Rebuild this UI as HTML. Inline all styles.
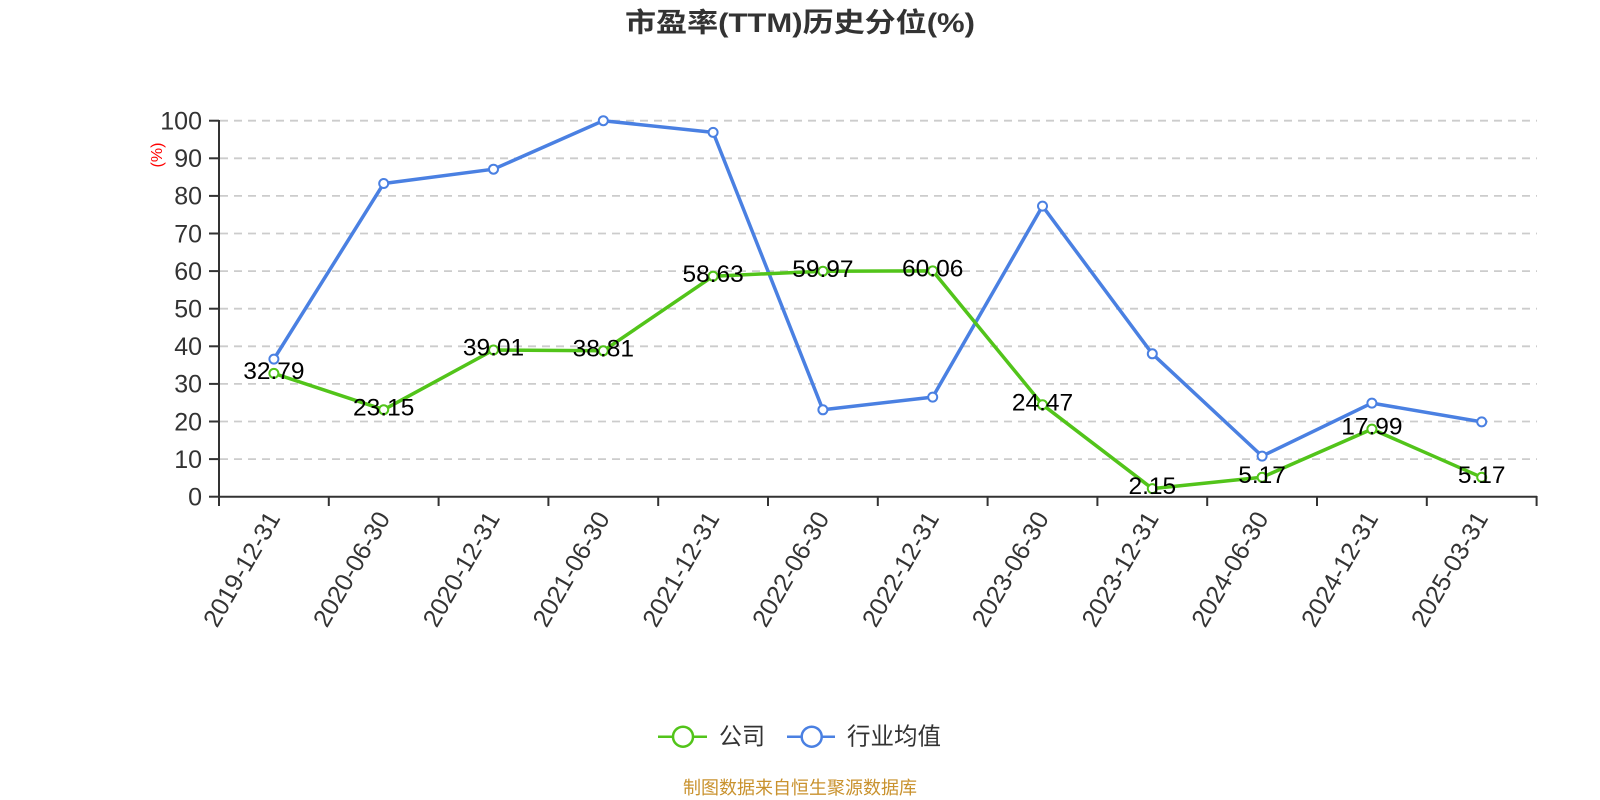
<!DOCTYPE html>
<html><head><meta charset="utf-8"><style>
html,body{margin:0;padding:0;background:#fff;}
svg{display:block;font-family:"Liberation Sans","Noto Sans CJK SC",sans-serif;}
</style></head><body>
<svg width="1600" height="800" viewBox="0 0 1600 800" xmlns="http://www.w3.org/2000/svg">
<rect width="1600" height="800" fill="#fff"/>
<text x="800" y="32" text-anchor="middle" font-size="27" font-weight="bold" fill="#333" textLength="350" lengthAdjust="spacingAndGlyphs">市盈率(TTM)历史分位(%)</text>
<g stroke="#ccc" stroke-width="1.8" stroke-dasharray="8,6">
<line x1="220" y1="459.1" x2="1537" y2="459.1"/>
<line x1="220" y1="421.5" x2="1537" y2="421.5"/>
<line x1="220" y1="383.9" x2="1537" y2="383.9"/>
<line x1="220" y1="346.3" x2="1537" y2="346.3"/>
<line x1="220" y1="308.7" x2="1537" y2="308.7"/>
<line x1="220" y1="271.1" x2="1537" y2="271.1"/>
<line x1="220" y1="233.5" x2="1537" y2="233.5"/>
<line x1="220" y1="195.9" x2="1537" y2="195.9"/>
<line x1="220" y1="158.3" x2="1537" y2="158.3"/>
<line x1="220" y1="120.7" x2="1537" y2="120.7"/>
</g>
<g stroke="#333" stroke-width="2">
<line x1="219" y1="120" x2="219" y2="497.7"/>
<line x1="218" y1="496.7" x2="1537" y2="496.7"/>
<line x1="209" y1="496.7" x2="219" y2="496.7"/>
<line x1="209" y1="459.1" x2="219" y2="459.1"/>
<line x1="209" y1="421.5" x2="219" y2="421.5"/>
<line x1="209" y1="383.9" x2="219" y2="383.9"/>
<line x1="209" y1="346.3" x2="219" y2="346.3"/>
<line x1="209" y1="308.7" x2="219" y2="308.7"/>
<line x1="209" y1="271.1" x2="219" y2="271.1"/>
<line x1="209" y1="233.5" x2="219" y2="233.5"/>
<line x1="209" y1="195.9" x2="219" y2="195.9"/>
<line x1="209" y1="158.3" x2="219" y2="158.3"/>
<line x1="209" y1="120.7" x2="219" y2="120.7"/>
<line x1="219" y1="496" x2="219" y2="506"/>
<line x1="328.8" y1="496" x2="328.8" y2="506"/>
<line x1="438.6" y1="496" x2="438.6" y2="506"/>
<line x1="548.4" y1="496" x2="548.4" y2="506"/>
<line x1="658.2" y1="496" x2="658.2" y2="506"/>
<line x1="768" y1="496" x2="768" y2="506"/>
<line x1="877.8" y1="496" x2="877.8" y2="506"/>
<line x1="987.6" y1="496" x2="987.6" y2="506"/>
<line x1="1097.4" y1="496" x2="1097.4" y2="506"/>
<line x1="1207.2" y1="496" x2="1207.2" y2="506"/>
<line x1="1317" y1="496" x2="1317" y2="506"/>
<line x1="1426.8" y1="496" x2="1426.8" y2="506"/>
<line x1="1536.6" y1="496" x2="1536.6" y2="506"/>
</g>
<g font-size="25" fill="#333" text-anchor="end">
<text x="202" y="505.5">0</text>
<text x="202" y="467.9">10</text>
<text x="202" y="430.3">20</text>
<text x="202" y="392.7">30</text>
<text x="202" y="355.1">40</text>
<text x="202" y="317.5">50</text>
<text x="202" y="279.9">60</text>
<text x="202" y="242.3">70</text>
<text x="202" y="204.7">80</text>
<text x="202" y="167.1">90</text>
<text x="202" y="129.5">100</text>
</g>
<text transform="translate(162,155) rotate(-90)" text-anchor="middle" font-size="16" fill="#f00">(%)</text>
<g font-size="25" fill="#333" text-anchor="end">
<text transform="translate(281,518) rotate(-60)">2019-12-31</text>
<text transform="translate(390.8,518) rotate(-60)">2020-06-30</text>
<text transform="translate(500.6,518) rotate(-60)">2020-12-31</text>
<text transform="translate(610.4,518) rotate(-60)">2021-06-30</text>
<text transform="translate(720.2,518) rotate(-60)">2021-12-31</text>
<text transform="translate(830,518) rotate(-60)">2022-06-30</text>
<text transform="translate(939.8,518) rotate(-60)">2022-12-31</text>
<text transform="translate(1049.6,518) rotate(-60)">2023-06-30</text>
<text transform="translate(1159.4,518) rotate(-60)">2023-12-31</text>
<text transform="translate(1269.2,518) rotate(-60)">2024-06-30</text>
<text transform="translate(1379,518) rotate(-60)">2024-12-31</text>
<text transform="translate(1488.8,518) rotate(-60)">2025-03-31</text>
</g>
<polyline fill="none" stroke="#4a80e2" stroke-width="3.5" stroke-linejoin="round" points="273.9,359.1 383.7,183.5 493.5,169.2 603.3,120.7 713.1,132.4 822.9,409.8 932.7,397.1 1042.5,206.1 1152.3,353.8 1262.1,456.1 1371.9,403.1 1481.7,421.9"/>
<polyline fill="none" stroke="#52c41a" stroke-width="3.5" stroke-linejoin="round" points="273.9,373.4 383.7,409.7 493.5,350 603.3,350.8 713.1,276.2 822.9,271.2 932.7,270.9 1042.5,404.7 1152.3,488.6 1262.1,477.3 1371.9,429.1 1481.7,477.3"/>
<g fill="#fff" stroke="#4a80e2" stroke-width="2">
<circle cx="273.9" cy="359.1" r="4.5"/><circle cx="383.7" cy="183.5" r="4.5"/><circle cx="493.5" cy="169.2" r="4.5"/><circle cx="603.3" cy="120.7" r="4.5"/><circle cx="713.1" cy="132.4" r="4.5"/><circle cx="822.9" cy="409.8" r="4.5"/><circle cx="932.7" cy="397.1" r="4.5"/><circle cx="1042.5" cy="206.1" r="4.5"/><circle cx="1152.3" cy="353.8" r="4.5"/><circle cx="1262.1" cy="456.1" r="4.5"/><circle cx="1371.9" cy="403.1" r="4.5"/><circle cx="1481.7" cy="421.9" r="4.5"/>
</g>
<g fill="#fff" stroke="#52c41a" stroke-width="2">
<circle cx="273.9" cy="373.4" r="4.5"/><circle cx="383.7" cy="409.7" r="4.5"/><circle cx="493.5" cy="350" r="4.5"/><circle cx="603.3" cy="350.8" r="4.5"/><circle cx="713.1" cy="276.2" r="4.5"/><circle cx="822.9" cy="271.2" r="4.5"/><circle cx="932.7" cy="270.9" r="4.5"/><circle cx="1042.5" cy="404.7" r="4.5"/><circle cx="1152.3" cy="488.6" r="4.5"/><circle cx="1262.1" cy="477.3" r="4.5"/><circle cx="1371.9" cy="429.1" r="4.5"/><circle cx="1481.7" cy="477.3" r="4.5"/>
</g>
<g font-size="24.5" fill="#000" text-anchor="middle">
<text x="273.9" y="379">32.79</text>
<text x="383.7" y="415.3">23.15</text>
<text x="493.5" y="355.6">39.01</text>
<text x="603.3" y="356.4">38.81</text>
<text x="713.1" y="281.8">58.63</text>
<text x="822.9" y="276.8">59.97</text>
<text x="932.7" y="276.5">60.06</text>
<text x="1042.5" y="410.3">24.47</text>
<text x="1152.3" y="494.2">2.15</text>
<text x="1262.1" y="482.9">5.17</text>
<text x="1371.9" y="434.7">17.99</text>
<text x="1481.7" y="482.9">5.17</text>
</g>
<line x1="658" y1="736.7" x2="707" y2="736.7" stroke="#52c41a" stroke-width="2.5"/>
<circle cx="683" cy="736.7" r="10" fill="#fff" stroke="#52c41a" stroke-width="2.5"/>
<text x="719" y="744.5" font-size="24" fill="#333" textLength="46" lengthAdjust="spacingAndGlyphs">公司</text>
<line x1="787" y1="736.7" x2="835" y2="736.7" stroke="#4a80e2" stroke-width="2.5"/>
<circle cx="811.7" cy="736.7" r="10" fill="#fff" stroke="#4a80e2" stroke-width="2.5"/>
<text x="847" y="744.5" font-size="24" fill="#333" textLength="94" lengthAdjust="spacingAndGlyphs">行业均值</text>
<text x="800" y="794" text-anchor="middle" font-size="18" fill="#c9922e" textLength="234" lengthAdjust="spacingAndGlyphs">制图数据来自恒生聚源数据库</text>
</svg>
</body></html>
